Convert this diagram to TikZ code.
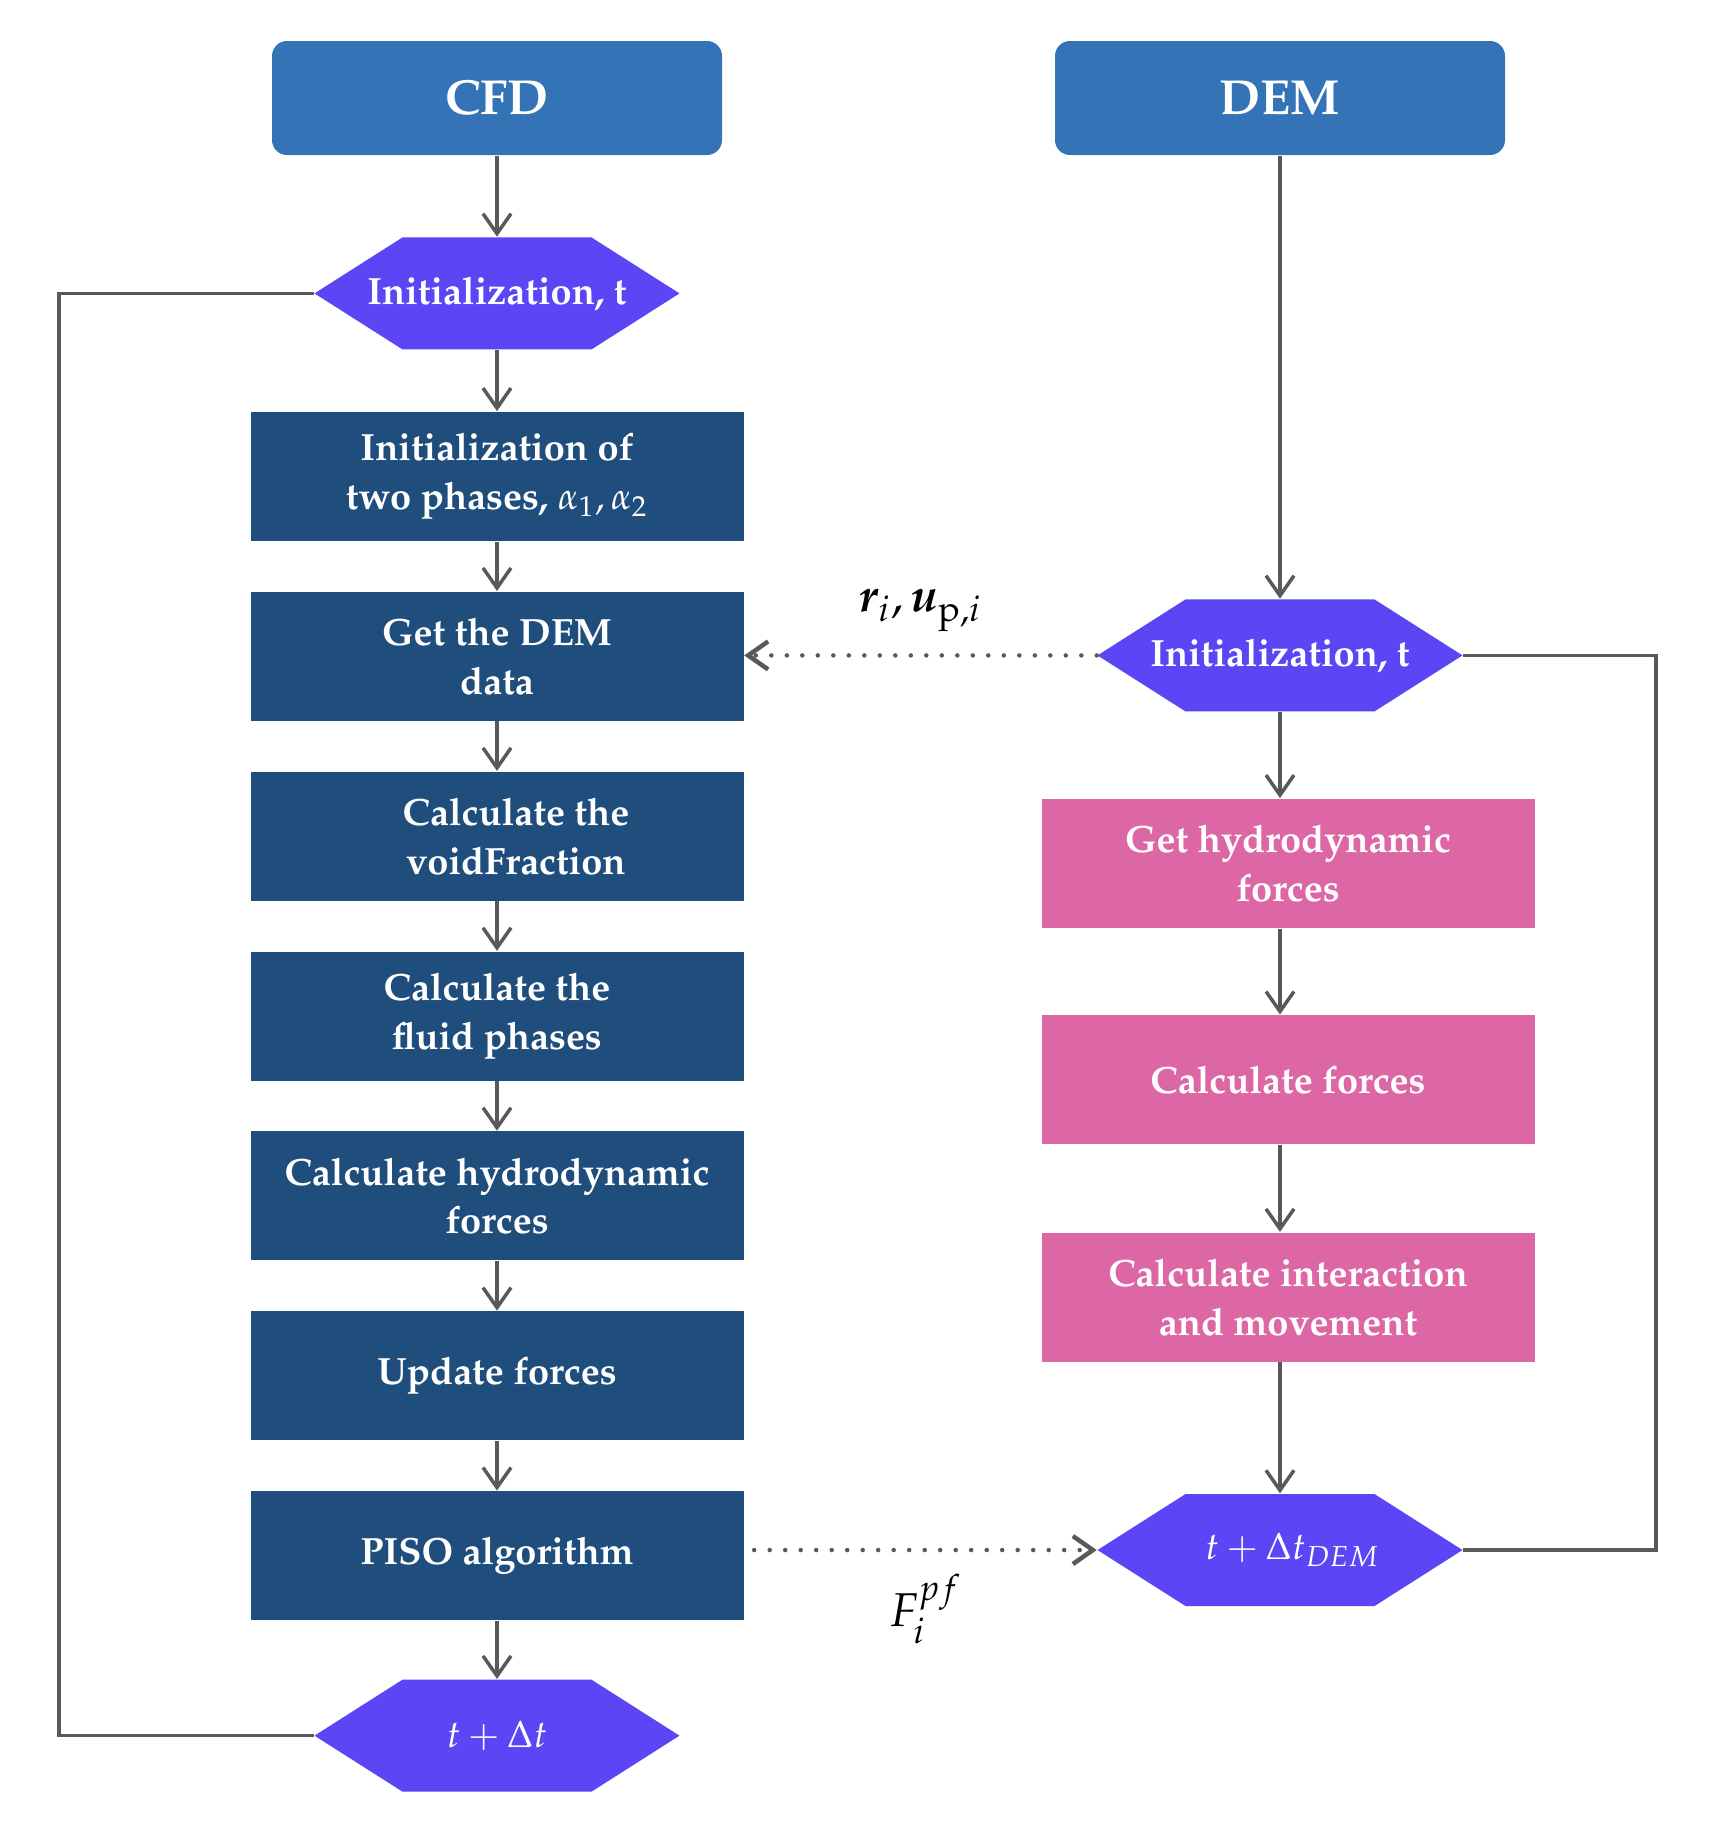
\documentclass[tikz,border=0pt]{standalone}
\usepackage[T1]{fontenc}
\usepackage{mathpazo}
\usepackage{amsmath}
\usepackage{bm}
\usetikzlibrary{positioning,arrows.meta}
\definecolor{headblue}{RGB}{52,116,182}
\definecolor{boxblue}{RGB}{31,77,124}
\definecolor{hexviolet}{RGB}{92,69,245}
\definecolor{boxpink}{RGB}{221,103,165}
\definecolor{linegray}{RGB}{89,89,89}

\begin{document}
\begin{tikzpicture}[auto,
    head/.style={rectangle, rounded corners=0.15cm, fill=headblue, text=white, minimum width=4.5cm, minimum height=1.14cm, font=\fontsize{14}{17}\selectfont\bfseries},
    stepbox/.style={rectangle, fill=boxblue, text=white, align=center, minimum width=4.93cm, minimum height=1.29cm, inner sep=0pt, font=\fontsize{10.8}{13.9}\selectfont\bfseries},
    pinkbox/.style={stepbox, fill=boxpink},
    hexa/.style={rectangle, minimum width=3.65cm, minimum height=1.12cm, inner sep=0pt, text=white, font=\fontsize{10.8}{13.9}\selectfont\bfseries,
        path picture={\fill[hexviolet] (path picture bounding box.west) -- ([xshift=0.88cm]path picture bounding box.north west) -- ([xshift=-0.88cm]path picture bounding box.north east) -- (path picture bounding box.east) -- ([xshift=-0.88cm]path picture bounding box.south east) -- ([xshift=0.88cm]path picture bounding box.south west) -- cycle;}},
    flow/.style={draw=linegray, line width=0.035cm, -{Straight Barb[length=0.2cm, width=0.28cm]}},
    back/.style={draw=linegray, line width=0.035cm},
    dots/.style={draw=linegray, line width=0.045cm, line cap=round, dash pattern=on 0pt off 0.155cm, -{Straight Barb[length=0.2cm, width=0.28cm]}},
    lab/.style={font=\fontsize{13.5}{15}\selectfont}]

    \useasboundingbox (0,0) rectangle (17.16,-18.32);

    % CFD side
    \node [head] at (4.97,-0.98) (cfd) {CFD};
    \node [hexa, below=0.81cm of cfd] (initl) {Initialization, t};
    \node [stepbox, below=0.61cm of initl] (phases) {Initialization of\\two phases, $\alpha_1, \alpha_2$};
    \node [stepbox, below=0.495cm of phases] (demdata) {Get the DEM\\data};
    \node [stepbox, below=0.495cm of demdata] (voidfr) {\hspace*{0.38cm}Calculate the\\\hspace*{0.38cm}voidFraction};
    \node [stepbox, below=0.495cm of voidfr] (fluid) {Calculate the\\fluid phases};
    \node [stepbox, below=0.495cm of fluid] (hydro) {Calculate hydrodynamic\\forces};
    \node [stepbox, below=0.495cm of hydro] (update) {Update forces};
    \node [stepbox, below=0.495cm of update] (piso) {PISO algorithm};
    \node [hexa, below=0.58cm of piso] (stepl) {$t+\Delta t$};

    % DEM side
    \node [head] at (12.80,-0.98) (dem) {DEM};
    \node [hexa, below=4.43cm of dem] (initr) {Initialization, t};
    \node [pinkbox, below=0.86cm of initr, xshift=0.08cm] (hforces) {Get hydrodynamic\\forces};
    \node [pinkbox, below=0.86cm of hforces] (forces) {Calculate forces};
    \node [pinkbox, below=0.87cm of forces] (motion) {Calculate interaction\\and movement};
    \node [hexa, below=1.31cm of motion, xshift=-0.08cm] (stepr) {\hspace*{0.25cm}$t+\Delta t_{DEM}$};

    % arrows
    \draw [flow] (cfd) -- (initl);
    \draw [flow] (initl) -- (phases);
    \draw [flow] (phases) -- (demdata);
    \draw [flow] (demdata) -- (voidfr);
    \draw [flow] (voidfr) -- (fluid);
    \draw [flow] (fluid) -- (hydro);
    \draw [flow] (hydro) -- (update);
    \draw [flow] (update) -- (piso);
    \draw [flow] (piso) -- (stepl);
    \draw [back] (initl.west) -- ([xshift=-2.55cm]initl.west) |- (stepl.west);

    \draw [flow] (dem) -- (initr);
    \draw [flow] (initr.south) -- (initr.south |- hforces.north);
    \draw [flow] (initr.south |- hforces.south) -- (initr.south |- forces.north);
    \draw [flow] (initr.south |- forces.south) -- (initr.south |- motion.north);
    \draw [flow] (initr.south |- motion.south) -- (stepr.north);
    \draw [back] (initr.east) -- ([xshift=1.93cm]initr.east) |- (stepr.east);

    % coupling
    \draw [dots] (initr.west) -- (initr.west -| demdata.east) node [lab, midway, above=0.1cm] (rlab) {$\bm{r}_i, \bm{u}_{\mathrm{p},i}$};
    \draw [dots] ([xshift=0.1cm]piso.east |- stepr.west) -- (stepr.west) node [lab, midway, below=0.1cm] (flab) {$F_i^{pf}$};
\end{tikzpicture}
\end{document}
